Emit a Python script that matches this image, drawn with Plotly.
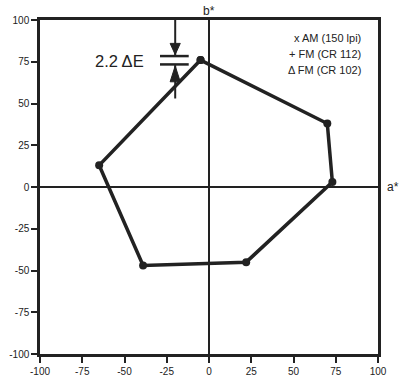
import plotly.graph_objects as go

# Gamut outline in the a*b* plane (closed polygon)
a_vals = [-5, 70, 73, 22, -39, -65, -5]
b_vals = [76, 38, 3, -45, -47, 13, 76]

tick_vals = [-100, -75, -50, -25, 0, 25, 50, 75, 100]
tick_text = ["-100", "-75", "-50", "-25", "0", "25", "50", "75", "100"]

legend_lines = ["x AM (150 lpi)", "+ FM (CR 112)", "\u0394 FM (CR 102)"]

ink = "#222222"
font = "Liberation Sans, Arial, sans-serif"

fig = go.Figure()
fig.add_trace(go.Scatter(
    x=a_vals, y=b_vals, mode="lines+markers",
    line=dict(color=ink, width=3.5),
    marker=dict(color=ink, size=8, symbol="circle"),
    showlegend=False, hoverinfo="skip",
))

# dimension marker for the 2.2 dE spacing
shapes = [
    dict(type="line", x0=-20, x1=-20, y0=100, y1=79, line=dict(color=ink, width=2)),
    dict(type="line", x0=-20, x1=-20, y0=73, y1=53, line=dict(color=ink, width=2)),
    dict(type="line", x0=-29, x1=-12, y0=78.4, y1=78.4, line=dict(color=ink, width=2.5)),
    dict(type="line", x0=-29, x1=-12, y0=73.4, y1=73.4, line=dict(color=ink, width=2.5)),
    dict(type="path", path="M -23,86 L -17,86 L -20,79.3 Z", fillcolor=ink, line=dict(color=ink, width=1)),
    dict(type="path", path="M -23,63 L -17,63 L -20,72.5 Z", fillcolor=ink, line=dict(color=ink, width=1)),
]

annotations = [
    dict(x=-37, y=75.5, xref="x", yref="y", text="2.2 \u0394E", showarrow=False,
         xanchor="right", yanchor="middle", font=dict(size=16.5, color=ink, family=font)),
    dict(x=0, y=100, xref="x", yref="y", text="b*", showarrow=False,
         xanchor="center", yanchor="bottom", yshift=0, font=dict(size=12, color=ink, family=font)),
    dict(x=100, y=0, xref="x", yref="y", text="a*", showarrow=False,
         xanchor="left", xshift=7, yanchor="middle", font=dict(size=12, color=ink, family=font)),
]
for i, line in enumerate(legend_lines):
    annotations.append(dict(
        x=91, y=89 - i * 9.5, xref="x", yref="y", text=line, showarrow=False,
        xanchor="right", yanchor="middle", font=dict(size=11, color=ink, family=font)))

axis_common = dict(
    range=[-100, 100], tickvals=tick_vals, ticktext=tick_text,
    showgrid=False, zeroline=True, zerolinecolor=ink, zerolinewidth=2,
    showline=True, linecolor=ink, linewidth=2.5, mirror=True,
    ticks="outside", ticklen=6, tickwidth=2, tickcolor=ink,
    tickfont=dict(size=10, color=ink, family=font),
)

fig.update_layout(
    width=402, height=379,
    margin=dict(l=40, r=24, t=20, b=25),
    paper_bgcolor="white", plot_bgcolor="white",
    xaxis=dict(**axis_common, automargin=False),
    yaxis=dict(**axis_common, automargin=False),
    shapes=shapes, annotations=annotations,
    showlegend=False,
)

fig.write_html("out.html")
